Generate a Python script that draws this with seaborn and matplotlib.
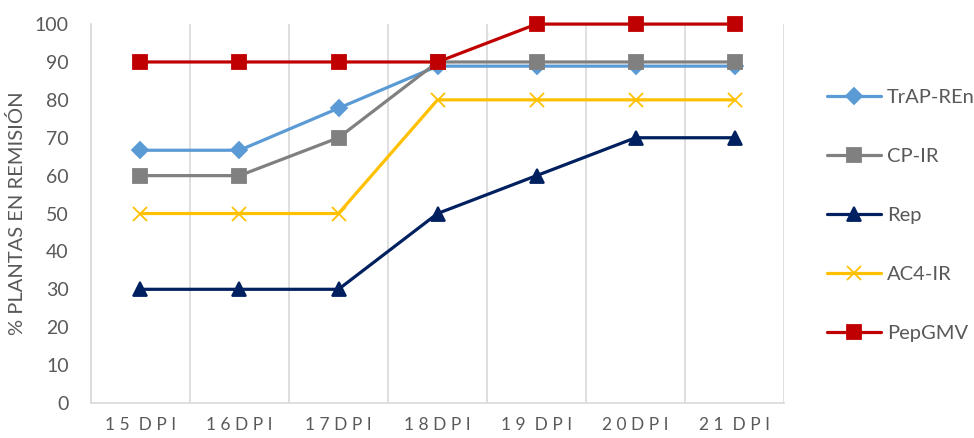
import numpy as np
import pandas as pd
import matplotlib
matplotlib.use("Agg")
import matplotlib.pyplot as plt
import seaborn as sns

# data
dias = ["15 DPI", "16DPI", "17DPI", "18DPI", "19 DPI", "20DPI", "21 DPI"]
trap_ren = [66.7, 66.7, 77.8, 88.9, 88.9, 88.9, 88.9]
cp_ir = [60, 60, 70, 90, 90, 90, 90]
rep = [30, 30, 30, 50, 60, 70, 70]
ac4_ir = [50, 50, 50, 80, 80, 80, 80]
pepgmv = [90, 90, 90, 90, 100, 100, 100]

series = ["TrAP-REn", "CP-IR", "Rep", "AC4-IR", "PepGMV"]
values = [trap_ren, cp_ir, rep, ac4_ir, pepgmv]

colores = {"TrAP-REn": "#5B9BD5", "CP-IR": "#808080", "Rep": "#002060",
           "AC4-IR": "#FFC000", "PepGMV": "#C00000"}
marcadores = {"TrAP-REn": "D", "CP-IR": "s", "Rep": "^", "AC4-IR": "x", "PepGMV": "s"}
tam = {"TrAP-REn": 8, "CP-IR": 10, "Rep": 10, "AC4-IR": 10, "PepGMV": 10}

sns.set_style("white")
plt.rcParams['font.family'] = ['Lato', 'DejaVu Sans']
gris_txt = "#595959"
gris_lin = "#D9D9D9"

fig = plt.figure(figsize=(9.74, 4.38), dpi=100)
ax = fig.add_axes([0.0934, 0.08, 0.7116, 0.865])

for name, vals in zip(series, values):
    df = pd.DataFrame({"dia": dias, "pct": vals})
    col = colores[name]
    sns.lineplot(data=df, x="dia", y="pct", ax=ax, sort=False, color=col,
                 linewidth=2.3, marker=marcadores[name], markersize=tam[name],
                 markeredgecolor=col, markerfacecolor=col, markeredgewidth=1.3,
                 label=name, clip_on=False, zorder=3)

# letter-spaced category labels, like the original
def espaciar(txt):
    return "  ".join(" ".join(w) for w in txt.split(" "))

ax.set_xlim(-0.5, len(dias) - 0.5)
ax.set_ylim(0, 100)
ax.set_yticks(np.arange(0, 101, 10))
ax.set_xticks(range(len(dias)))
ax.set_xticklabels([espaciar(d) for d in dias])
ax.set_xlabel("")
ax.set_ylabel("% PLANTAS EN REMISIÓN", fontsize=14.5, color=gris_txt, labelpad=6)

for b in np.arange(-0.5, len(dias), 1.0):
    ax.axvline(b, color=gris_lin, linewidth=1.2, zorder=1)

for s in ["top", "right"]:
    ax.spines[s].set_visible(False)
for s in ["left", "bottom"]:
    ax.spines[s].set_color(gris_lin)
    ax.spines[s].set_linewidth(1.2)

ax.tick_params(axis="y", length=0, pad=16, labelsize=14, labelcolor=gris_txt)
ax.tick_params(axis="x", length=0, pad=10, labelsize=12.5, labelcolor=gris_txt)

handles, labels = ax.get_legend_handles_labels()
ax.legend_.remove()
fig.legend(handles, labels, loc="center left", bbox_to_anchor=(0.83, 0.508),
           frameon=False, fontsize=14.5, labelspacing=2.08, handlelength=2.7,
           handletextpad=0.3, labelcolor=gris_txt)

fig.savefig("out.png", dpi=100)
